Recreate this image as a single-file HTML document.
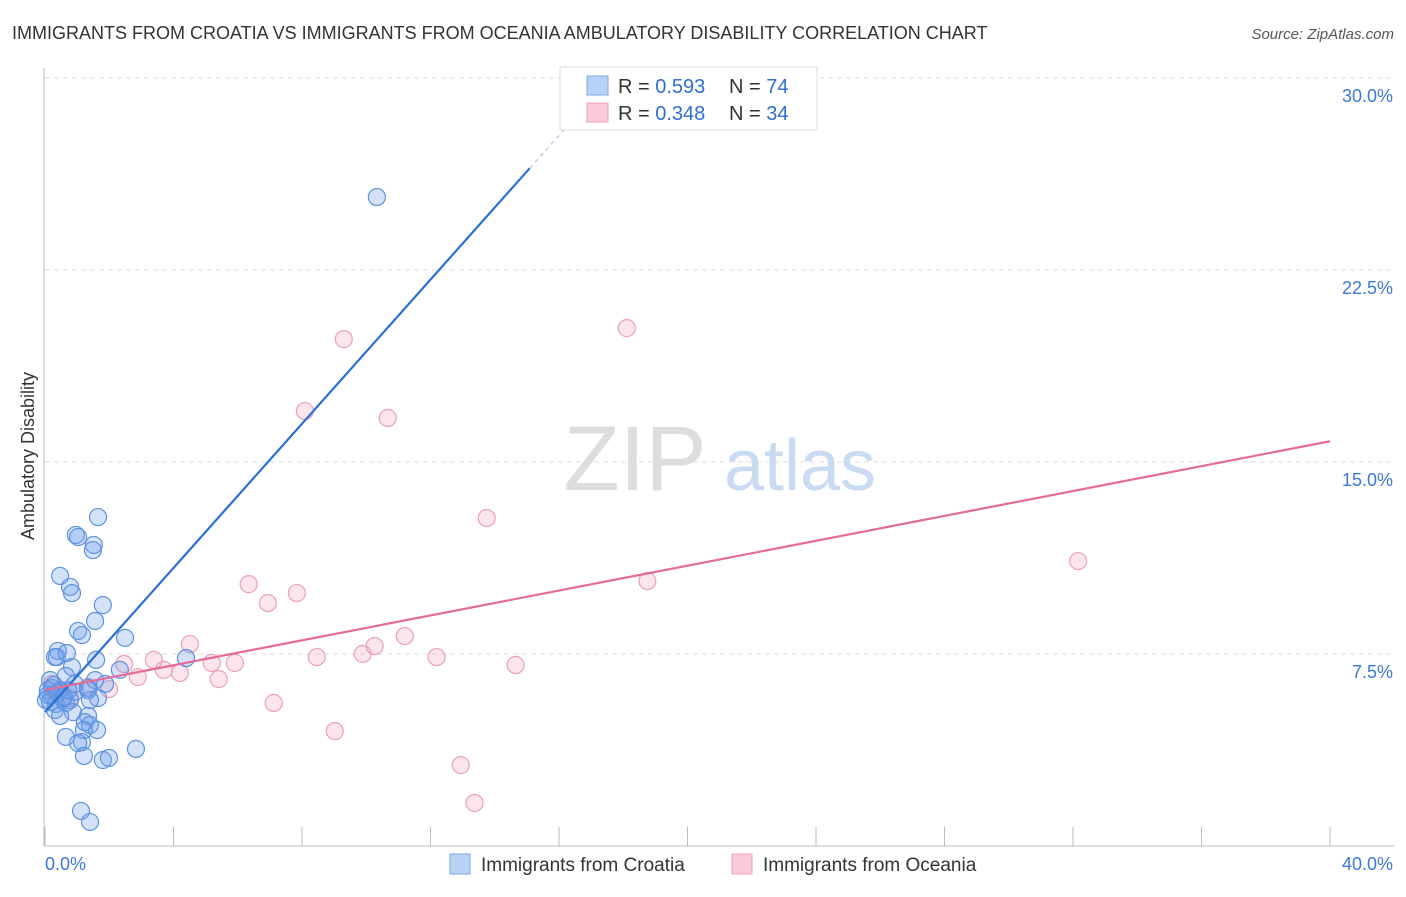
<!DOCTYPE html>
<html><head><meta charset="utf-8"><style>
body{margin:0;background:#fff;font-family:"Liberation Sans",sans-serif;}
svg text{font-family:"Liberation Sans",sans-serif;}
</style></head><body>
<svg id="chart" width="1406" height="892" viewBox="0 0 1406 892">
<text x="12" y="39" font-size="18" fill="#333">IMMIGRANTS FROM CROATIA VS IMMIGRANTS FROM OCEANIA AMBULATORY DISABILITY CORRELATION CHART</text>
<text x="1394" y="39" font-size="15" fill="#555" text-anchor="end" font-style="italic">Source: ZipAtlas.com</text>
<text x="34" y="456" font-size="18" fill="#333" text-anchor="middle" transform="rotate(-90 34 456)">Ambulatory Disability</text>
<g id="grid"></g>
<g id="watermark">
<text x="635" y="490" font-size="92" fill="#ddd" font-family="Liberation Serif" text-anchor="middle">ZIP</text>
<text x="800" y="490" font-size="72" fill="#c9daf3" text-anchor="middle">atlas</text>
</g>
<g id="pts"></g>
<g id="lines"></g>
<g>
<rect x="560" y="67" width="257" height="63" fill="#fff" stroke="#ddd"/>
<rect x="587" y="76" width="21" height="19" fill="#b9d3f5" stroke="#7ea8e6"/>
<rect x="587" y="103" width="21" height="19" fill="#f9cbda" stroke="#ee9fbb"/>
<text x="618" y="93" font-size="20" fill="#333">R = <tspan fill="#2f6fd3">0.593</tspan></text>
<text x="729" y="93" font-size="20" fill="#333">N = <tspan fill="#2f6fd3">74</tspan></text>
<text x="618" y="120" font-size="20" fill="#333">R = <tspan fill="#2f6fd3">0.348</tspan></text>
<text x="729" y="120" font-size="20" fill="#333">N = <tspan fill="#2f6fd3">34</tspan></text>
</g>
<g>
<rect x="450" y="854" width="20" height="20" fill="#b9d3f5" stroke="#7ea8e6"/>
<text x="481" y="871" font-size="19" fill="#333">Immigrants from Croatia</text>
<rect x="732" y="854" width="20" height="20" fill="#f9cbda" stroke="#ee9fbb"/>
<text x="763" y="871" font-size="19" fill="#333">Immigrants from Oceania</text>
</g>
</svg>
<script>
const xTicks=[0,4,8,12,16,20,24,28,32,36,40];
const yTicks=[7.5,15,22.5,30];
const yTickLabels=["7.5%","15.0%","22.5%","30.0%"];
const xEndLabels=["0.0%","40.0%"];
const croatiaX=[10.33,1.65,0.96,1.03,1.52,1.49,0.47,0.78,0.84,1.80,1.56,1.03,1.15,2.49,0.40,0.37,0.31,0.68,1.59,0.84,4.39,2.33,0.65,0.16,0.28,0.47,0.93,1.56,1.87,1.34,0.09,0.22,0.53,0.78,0.16,0.34,0.65,1.65,1.40,0.87,0.47,1.34,1.24,1.40,1.62,1.21,0.65,1.15,1.03,2.83,1.21,1.80,1.99,1.12,1.40,0.09,0.22,0.40,0.59,0.03,0.31,0.72,0.93,1.34];
const croatiaY=[25.35,12.85,12.15,12.07,11.76,11.56,10.55,10.12,9.88,9.41,8.79,8.40,8.24,8.13,7.62,7.38,7.38,7.54,7.27,6.99,7.34,6.88,6.64,6.48,6.29,6.09,6.02,6.48,6.33,6.17,6.09,5.90,5.78,5.70,5.63,5.55,5.59,5.78,5.70,5.23,5.08,5.08,4.84,4.73,4.53,4.53,4.26,4.06,4.02,3.79,3.52,3.36,3.44,1.37,0.94,5.90,6.17,5.98,5.82,5.70,5.31,6.09,6.33,6.09];
const oceaniaX=[18.11,9.30,8.09,10.67,13.75,32.16,18.75,6.34,7.84,6.94,11.20,4.51,10.26,9.89,8.46,12.19,14.65,3.39,2.46,5.19,5.91,4.20,3.70,2.89,5.41,1.99,1.34,7.12,9.02,12.94,13.37,0.22,0.47,0.78];
const oceaniaY=[20.23,19.80,16.99,16.72,12.81,11.13,10.35,10.23,9.88,9.49,8.20,7.89,7.81,7.50,7.38,7.38,7.07,7.27,7.11,7.15,7.15,6.76,6.88,6.60,6.52,6.13,6.21,5.59,4.49,3.16,1.68,6.33,6.09,5.78];
const croatiaTrend=[5.23,1.408];
const oceaniaTrend=[6.09,0.243];
const X0=45,X1=1330,Y0=846,PXY=25.6;
const sx=v=>X0+(X1-X0)*v/40;
const sy=v=>Y0-v*PXY;
const NS="http://www.w3.org/2000/svg";
function mk(tag,attrs,parent){const e=document.createElementNS(NS,tag);for(const k in attrs)e.setAttribute(k,attrs[k]);parent.appendChild(e);return e;}
const grid=document.getElementById('grid');
mk('line',{x1:44,y1:68,x2:44,y2:Y0,stroke:'#bbb'},grid);
mk('line',{x1:44,y1:Y0,x2:1394,y2:Y0,stroke:'#bbb'},grid);
yTicks.forEach((t,i)=>{
 const g=mk('line',{x1:45,y1:sy(t),x2:1394,y2:sy(t),stroke:'#ddd','stroke-dasharray':'5,4'},grid);
 
 
 const tx=mk('text',{x:1393,y:sy(t)+24,'font-size':18,fill:'#3b78d8','text-anchor':'end'},grid);
 tx.textContent=yTickLabels[i];
 
 
});
xTicks.forEach(t=>{
 const l=mk('line',{x1:sx(t),y1:827,x2:sx(t),y2:Y0,stroke:'#bbb'},grid);
 
 
});
const xl=mk('text',{x:45,y:870,'font-size':18,fill:'#3b78d8'},grid);xl.textContent=xEndLabels[0];


const xr=mk('text',{x:1393,y:870,'font-size':18,fill:'#3b78d8','text-anchor':'end'},grid);xr.textContent=xEndLabels[1];


const pts=document.getElementById('pts');
oceaniaX.forEach((x,i)=>{
 const c=mk('circle',{cx:sx(x),cy:sy(oceaniaY[i]),r:8.5,fill:'rgba(244,160,190,0.28)',stroke:'#eaa0bb','stroke-width':1.2},pts);
 
 
});
croatiaX.forEach((x,i)=>{
 const c=mk('circle',{cx:sx(x),cy:sy(croatiaY[i]),r:8.5,fill:'rgba(110,160,235,0.3)',stroke:'#5e92df','stroke-width':1.2},pts);
 
 
});
const lines=document.getElementById('lines');
const b1=mk('line',{x1:sx(0),y1:sy(croatiaTrend[0]),x2:sx(15.09),y2:sy(croatiaTrend[0]+croatiaTrend[1]*15.09),stroke:'#2a6fd6','stroke-width':2.2},lines);


const b2=mk('line',{x1:sx(15.09),y1:sy(croatiaTrend[0]+croatiaTrend[1]*15.09),x2:sx(17.2),y2:sy(croatiaTrend[0]+croatiaTrend[1]*17.2),stroke:'#9bbce9','stroke-width':1,'stroke-dasharray':'4,4'},lines);


const p1=mk('line',{x1:sx(0),y1:sy(oceaniaTrend[0]),x2:sx(40),y2:sy(oceaniaTrend[0]+oceaniaTrend[1]*40),stroke:'#e56b96','stroke-width':2.2},lines);


</script>
</body></html>
